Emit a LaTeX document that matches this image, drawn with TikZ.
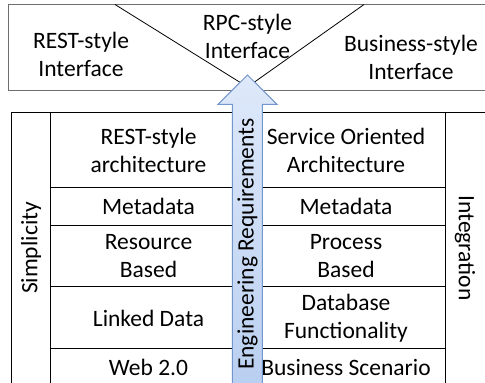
\documentclass[tikz,border=0pt]{standalone}
\usepackage{fontspec}
\setmainfont{Carlito}
\usetikzlibrary{shadings}
\definecolor{boxgray}{RGB}{110,110,110}
\definecolor{arrowfill1}{RGB}{222,233,250}
\definecolor{arrowfill2}{RGB}{184,206,240}
\definecolor{arrowline}{RGB}{115,150,205}
\begin{document}
\begin{tikzpicture}[x=1pt,y=-1pt,
  txt/.style={font=\fontsize{23.5}{28}\selectfont, align=center, inner sep=0pt},
  grid/.style={draw=black, line width=1pt},
  topbox/.style={draw=boxgray, line width=1pt}]
\useasboundingbox (0,0) rectangle (485,383);
\clip (0,0) rectangle (485,383);
% top box
\draw[topbox] (8,4.5) rectangle (495,90.5);
\coordinate (vl) at (115,4.5);
\coordinate (vr) at (364,4.5);
\coordinate (vm) at (247.5,87);
\draw[black, line width=0.8pt] (vl) -- (vm) -- (vr);
\node[txt] (t1) at (81,54) {REST-style\\Interface};
\node[txt] (t2) at (247.5,36) {RPC-style\\Interface};
\node[txt] (t3) at (411,57) {Business-style\\Interface};
% table
\draw[grid] (11,112.7) rectangle (495,395);
\draw[grid] (50,112.7) -- (50,395);
\draw[grid] (445,112.7) -- (445,395);
\foreach \yy in {187.3,225,286.7,348.3}{
  \draw[grid] (50,\yy) -- (445,\yy);
}
\node[txt, rotate=90] (simp) at (31,248) {Simplicity};
\node[txt, rotate=-90] (integ) at (465,248) {Integration};
% left column
\node[txt] (l1) at (148.5,150) {REST-style\\architecture};
\node[txt] (l2) at (148.5,206) {Metadata};
\node[txt] (l3) at (148.5,256) {Resource\\Based};
\node[txt] (l4) at (148.5,318) {Linked Data};
\node[txt] (l5) at (148.5,367) {Web 2.0};
% right column
\node[txt] (r1) at (346,150) {Service Oriented\\Architecture};
\node[txt] (r2) at (346,206) {Metadata};
\node[txt] (r3) at (346,256) {Process\\Based};
\node[txt] (r4) at (346,318) {Database\\Functionality};
\node[txt] (r5) at (346,367) {Business Scenario};
% arrow
\draw[arrowline, line width=1pt, top color=arrowfill1, bottom color=arrowfill2]
  (247.5,75) -- (277,104.3) -- (262.3,104.3) -- (262.3,400) -- (232.3,400) -- (232.3,104.3) -- (218,104.3) -- cycle;
\node[txt, rotate=90] (eng) at (247.5,244) {Engineering Requirements};
\end{tikzpicture}
\end{document}
